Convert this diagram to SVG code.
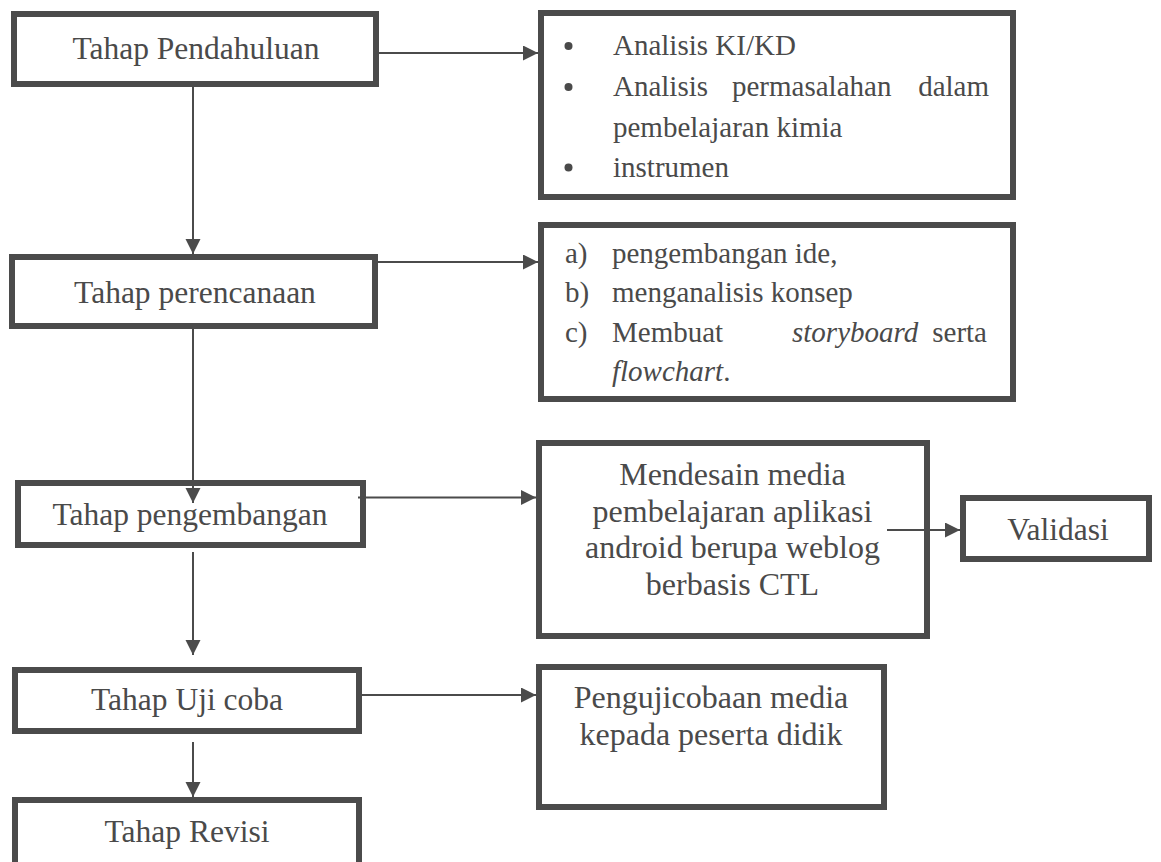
<svg xmlns="http://www.w3.org/2000/svg" width="1161" height="862" viewBox="0 0 1161 862">
<style>
.box{fill:#ffffff;stroke:#4b4b4b;stroke-width:6}
.con{fill:none;stroke:#4b4b4b;stroke-width:2}
.t{font-family:'Liberation Serif','Times New Roman',serif;fill:#4a4a4a}
.big{font-size:31.5px}
.mid{font-size:32px}
.sm{font-size:29px}
.c{text-anchor:middle}
.e{text-anchor:end}
.i{font-style:italic}
</style>
<defs>
<marker id="arr" markerUnits="userSpaceOnUse" markerWidth="16" markerHeight="16" refX="15" refY="7.5" orient="auto">
<path d="M0,0 L15,7.5 L0,15 z" fill="#4b4b4b"/>
</marker>
</defs>
<rect width="1161" height="862" fill="#ffffff"/>

<g id="pendahuluan">
<rect class="box" x="14" y="14" width="362" height="70"/>
<text class="t big c" x="196" y="59">Tahap Pendahuluan</text>
</g>

<g id="perencanaan">
<rect class="box" x="12" y="257" width="363" height="69"/>
<text class="t big c" x="195" y="303">Tahap perencanaan</text>
</g>

<g id="pengembangan">
<rect class="box" x="18" y="483" width="345" height="62"/>
<text class="t big c" x="190" y="525">Tahap pengembangan</text>
</g>

<g id="ujicoba">
<rect class="box" x="15" y="670" width="344" height="61"/>
<text class="t big c" x="187" y="710">Tahap Uji coba</text>
</g>

<g id="revisi">
<rect class="box" x="15" y="800" width="344" height="80"/>
<text class="t big c" x="187" y="842">Tahap Revisi</text>
</g>

<g id="analisis">
<rect class="box" x="541" y="13" width="472" height="184"/>
<circle cx="568.5" cy="46" r="4" fill="#4a4a4a"/>
<circle cx="568.5" cy="87" r="4" fill="#4a4a4a"/>
<circle cx="568.5" cy="167.5" r="4" fill="#4a4a4a"/>
<text class="t sm" x="613" y="55">Analisis KI/KD</text>
<text class="t sm" x="613" y="96">Analisis</text>
<text class="t sm" x="732" y="96">permasalahan</text>
<text class="t sm e" x="989" y="96">dalam</text>
<text class="t sm" x="613" y="136.5">pembelajaran kimia</text>
<text class="t sm" x="613" y="176.5">instrumen</text>
</g>

<g id="rencana-list">
<rect class="box" x="541" y="225" width="472" height="174"/>
<text class="t sm" x="565" y="263">a)</text>
<text class="t sm" x="612" y="263">pengembangan ide,</text>
<text class="t sm" x="565" y="302">b)</text>
<text class="t sm" x="612" y="302">menganalisis konsep</text>
<text class="t sm" x="565" y="341.5">c)</text>
<text class="t sm" x="612" y="341.5">Membuat</text>
<text class="t sm i" x="792" y="341.5">storyboard</text>
<text class="t sm e" x="987" y="341.5">serta</text>
<text class="t sm" x="612" y="381"><tspan class="i">flowchart</tspan>.</text>
</g>

<g id="mendesain">
<rect class="box" x="539" y="443" width="388" height="193"/>
<text class="t mid c" x="732.5" y="485">Mendesain media</text>
<text class="t mid c" x="732.5" y="521.7">pembelajaran aplikasi</text>
<text class="t mid c" x="732.5" y="558.3">android berupa weblog</text>
<text class="t mid c" x="732.5" y="595">berbasis CTL</text>
</g>

<g id="validasi">
<rect class="box" x="963" y="498" width="186" height="61"/>
<text class="t big c" x="1058" y="540">Validasi</text>
</g>

<g id="pengujicobaan">
<rect class="box" x="539" y="667" width="345" height="140"/>
<text class="t mid c" x="711" y="708.3">Pengujicobaan media</text>
<text class="t mid c" x="711" y="745">kepada peserta didik</text>
</g>

<g id="connectors">
<line class="con" x1="379" y1="53" x2="538" y2="53" marker-end="url(#arr)"/>
<line class="con" x1="193" y1="87" x2="193" y2="254" marker-end="url(#arr)"/>
<line class="con" x1="378" y1="262" x2="538" y2="262" marker-end="url(#arr)"/>
<line class="con" x1="193" y1="329" x2="193" y2="503" marker-end="url(#arr)"/>
<line class="con" x1="358" y1="497.5" x2="536" y2="497.5" marker-end="url(#arr)"/>
<line class="con" x1="193" y1="552" x2="193" y2="655" marker-end="url(#arr)"/>
<line class="con" x1="362" y1="695" x2="536" y2="695" marker-end="url(#arr)"/>
<line class="con" x1="193" y1="742" x2="193" y2="797" marker-end="url(#arr)"/>
<line class="con" x1="887" y1="530" x2="960" y2="530" marker-end="url(#arr)"/>
</g>
</svg>
